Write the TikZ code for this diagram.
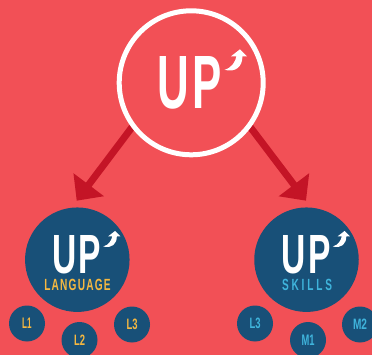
\documentclass[tikz,border=0pt]{standalone}
\usepackage{fontspec}
\usetikzlibrary{arrows.meta}
\setmainfont{Liberation Sans}
\definecolor{bgred}{RGB}{242,80,86}
\definecolor{arrowred}{RGB}{196,20,38}
\definecolor{navy}{RGB}{24,80,120}
\definecolor{gold}{RGB}{245,184,65}
\definecolor{skyb}{RGB}{63,180,220}
\pgfdeclarelayer{behind}
\pgfsetlayers{behind,main}
\tikzset{
  fitted/.style={inner sep=0pt,outer sep=0pt,font=\bfseries},
  bigring/.style={circle,draw=white,line width=5pt,minimum size=144pt,inner sep=0pt},
  midnode/.style={circle,fill=navy,minimum size=104.5pt,inner sep=0pt},
  smallnode/.style={circle,fill=navy,minimum size=36pt,inner sep=0pt,font=\bfseries},
  link/.style={draw=arrowred,line width=7pt,shorten <=-3pt,-{Triangle[length=20pt,width=37pt]}},
  swoosh/.pic={\fill[white] (0,0) -- (7,7) -- (2.4,7) .. controls (2.5,17) and (-4,23.5) .. (-15.5,20.5)
     .. controls (-8,18.5) and (-4.5,12) .. (-3.6,7) -- (-9,7) -- cycle;}
}
\newcommand{\smalltxt}[3]{\textcolor{#1}{\resizebox{#2pt}{10.5pt}{#3}}}
\newcommand{\upword}{U\kern.07em P}
\begin{document}
\begin{tikzpicture}[x=1pt,y=-1pt]
\useasboundingbox (0,0) rectangle (372,355);
\coordinate (tipl) at (76.7,200.7);
\coordinate (tipr) at (306,200.7);
\node[bigring] (top) at (191.2,82.8) {};
\node[midnode] (lang) at (77.3,259.7) {};
\node[midnode] (skills) at (306.5,259.7) {};
\begin{pgfonlayer}{behind}
\fill[bgred] (0,0) rectangle (372,355);
\draw[link] (top.217.2) -- (tipl);
\draw[link] (top.323.2) -- (tipr);
\end{pgfonlayer}
\node[fitted] (uptop) at (189.7,82.8) {\textcolor{white}{\resizebox{64pt}{52pt}{\upword}}};
\pic at (240,49.3) {swoosh};
\node[fitted] (uplang) at (76.7,255) {\textcolor{white}{\resizebox{49pt}{38pt}{\upword}}};
\node[fitted] (upskills) at (306,255) {\textcolor{white}{\resizebox{49pt}{38pt}{\upword}}};
\pic[scale=.755] at (115,231) {swoosh};
\pic[scale=.755] at (344.5,231) {swoosh};
\node[fitted] (langtxt) at (77.5,285) {\textcolor{gold}{\resizebox{66.4pt}{11.3pt}{\addfontfeature{LetterSpace=12}LANGUAGE}}};
\node[fitted] (skilltxt) at (307,285) {\textcolor{skyb}{\resizebox{50pt}{11.3pt}{\addfontfeature{LetterSpace=28}SKILLS}}};
\node[smallnode] (a1) at (27,323.5) {\smalltxt{gold}{9.5}{L1}};
\node[smallnode] (a2) at (79.5,340) {\smalltxt{gold}{11}{L2}};
\node[smallnode] (a3) at (132,324.5) {\smalltxt{gold}{11}{L3}};
\node[smallnode] (b1) at (255,323.5) {\smalltxt{skyb}{11}{L3}};
\node[smallnode] (b2) at (308,340) {\smalltxt{skyb}{13}{M1}};
\node[smallnode] (b3) at (360,324.5) {\smalltxt{skyb}{14}{M2}};
\end{tikzpicture}
\end{document}
